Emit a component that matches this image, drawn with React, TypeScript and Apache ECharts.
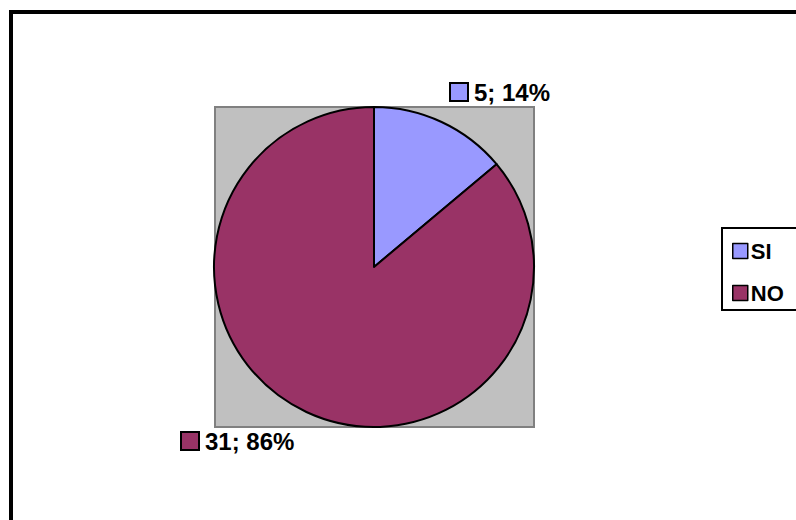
import React, { useEffect, useRef } from "react";
import * as echarts from "echarts";

const categories = ["SI", "NO"];
const values = [5, 31];
const percents = ["14%", "86%"];
const colors = ["#9999FF", "#993366"];

export default function App() {
  const ref = useRef<HTMLDivElement>(null);
  useEffect(() => {
    const chart = echarts.init(ref.current!, null, { renderer: "svg" });
    const font = "'Liberation Sans', Arial, sans-serif";
    const labelPos = [
      { x: 451, y: 92 },
      { x: 182, y: 441 },
    ];
    chart.setOption({
      animation: false,
      backgroundColor: "#ffffff",
      graphic: [
        {
          type: "rect",
          z: 0,
          shape: { x: 11, y: 12, width: 820, height: 540 },
          style: { fill: "#ffffff", stroke: "#000000", lineWidth: 4 },
        },
        {
          type: "rect",
          z: 1,
          shape: { x: 215, y: 107, width: 319, height: 320 },
          style: { fill: "#C0C0C0", stroke: "#808080", lineWidth: 2 },
        },
        {
          type: "rect",
          z: 1,
          shape: { x: 722, y: 228, width: 100, height: 82 },
          style: { fill: "#ffffff", stroke: "#000000", lineWidth: 2 },
        },
      ],
      legend: {
        orient: "vertical",
        left: 732,
        top: 240,
        padding: 0,
        icon: "rect",
        itemWidth: 15,
        itemHeight: 15,
        itemGap: 20,
        z: 5,
        itemStyle: { borderColor: "#000", borderWidth: 1.5 },
        textStyle: {
          fontFamily: font,
          fontWeight: "bold",
          fontSize: 22,
          lineHeight: 20,
          color: "#000",
          padding: [0, 0, 0, -2],
        },
        data: categories,
      },
      series: [
        {
          type: "pie",
          z: 3,
          center: [374, 267],
          radius: 160,
          startAngle: 90,
          clockwise: true,
          silent: true,
          emphasis: { disabled: true },
          itemStyle: { borderColor: "#000", borderWidth: 2 },
          labelLine: { show: false },
          label: {
            show: true,
            position: "outside",
            formatter: (p: any) => `{sq${p.dataIndex}|}{t|${values[p.dataIndex]}; ${percents[p.dataIndex]}}`,
            rich: {
              sq0: { width: 16, height: 16, backgroundColor: colors[0], borderColor: "#000", borderWidth: 2 },
              sq1: { width: 16, height: 16, backgroundColor: colors[1], borderColor: "#000", borderWidth: 2 },
              t: { fontFamily: font, fontWeight: "bold", fontSize: 24, color: "#000", padding: [0, 0, 0, 7] },
            },
          },
          labelLayout: (params: any) => ({
            x: labelPos[params.dataIndex].x,
            y: labelPos[params.dataIndex].y,
            align: "left",
            verticalAlign: "middle",
          }),
          data: categories.map((c, i) => ({ name: c, value: values[i], itemStyle: { color: colors[i] } })),
        },
      ],
    });
    return () => chart.dispose();
  }, []);
  return (
    <div
      ref={ref}
      style={{ position: "fixed", left: 0, top: 0, width: 796, height: 520 }}
    />
  );
}
